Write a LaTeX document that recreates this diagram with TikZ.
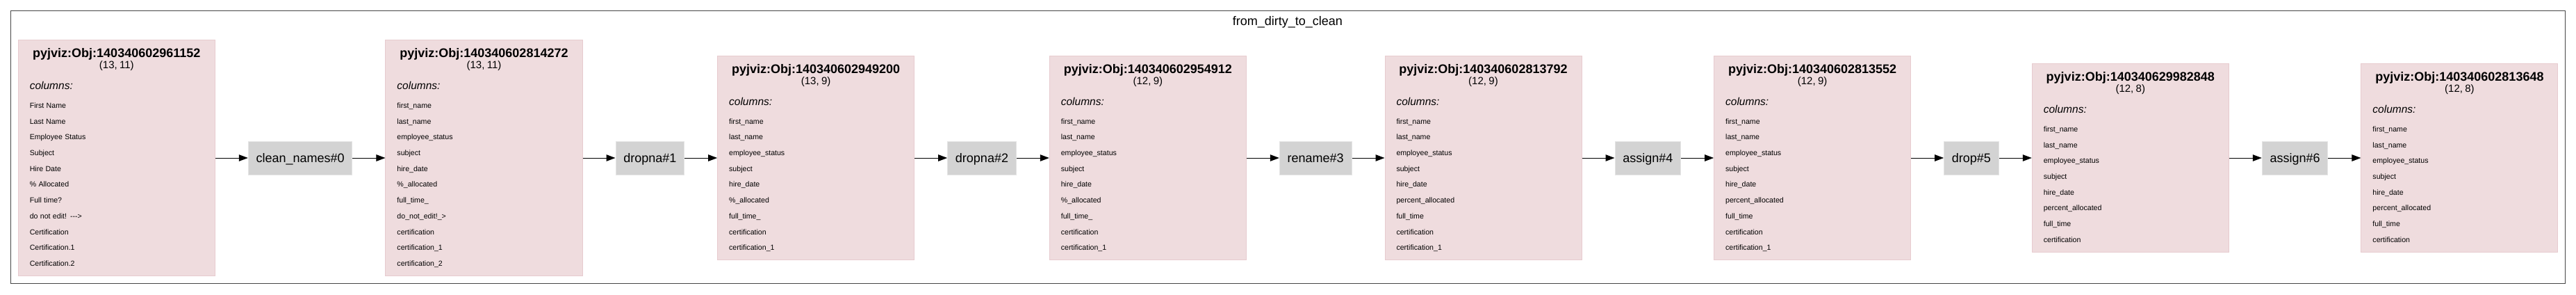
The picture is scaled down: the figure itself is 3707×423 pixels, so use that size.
\documentclass[tikz,border=0pt]{standalone}
\usepackage{fontspec}
\setmainfont{Liberation Sans}
\usetikzlibrary{positioning, arrows.meta}

\definecolor{objfill}{RGB}{239,220,222}
\definecolor{objborder}{RGB}{231,203,207}
\definecolor{opfill}{RGB}{211,211,211}
\definecolor{opborder}{RGB}{228,228,228}
\definecolor{framecol}{RGB}{70,70,70}

% header of a data frame box: id, shape, then the columns label
\newcommand{\objhead}[2]{%
  \fontsize{18pt}{18pt}\bfseries\hbox to\hsize{\hss#1\hss}\par
  \fontsize{15pt}{16.5pt}\mdseries\hbox to\hsize{\hss#2\hss}\par
  \fontsize{15.5pt}{30pt}\itshape\hbox{columns:}\par
  \fontsize{10.6pt}{26.5pt}\upshape}
\newcommand{\objrow}[1]{#1\par\fontsize{10.6pt}{22.7pt}\selectfont}

\tikzstyle{clusterbox} = [
    rectangle,
    draw=framecol,
    line width=1.4pt,
    inner sep=0pt
]
\tikzstyle{objbox} = [
    rectangle,
    draw=objborder,
    fill=objfill,
    line width=1pt,
    text width=250pt,
    inner xsep=16.5pt,
    inner ysep=0pt,
    text height=25pt,
    align=left
]
\tikzstyle{opbox} = [
    rectangle,
    draw=opborder,
    fill=opfill,
    line width=1pt,
    font=\fontsize{18pt}{18pt}\selectfont,
    inner xsep=11.3pt,
    minimum height=48pt,
    text height=13.1pt,
    text depth=0pt
]
\tikzstyle{arrow} = [line width=1pt, -{Triangle[length=13pt, width=9.5pt]}]

\begin{document}
\begin{tikzpicture}[x=1pt, y=-1pt, node distance=47pt]

\useasboundingbox (0,0) rectangle (3707,423);

\node (cluster) [clusterbox, minimum width=3675.6pt, minimum height=391.6pt] at (1853.5,211.5) {};
\node (title) [anchor=base, font=\fontsize{18pt}{18pt}\selectfont] at (1852.8,36) {from\_dirty\_to\_clean};

\node (obj0) [objbox, text depth=314.2pt] at (167.8,227)
{\objhead{pyjviz:Obj:140340602961152}{(13, 11)}
 \objrow{First Name}
 \objrow{Last Name}
 \objrow{Employee Status}
 \objrow{Subject}
 \objrow{Hire Date}
 \objrow{\% Allocated}
 \objrow{Full time?}
 \objrow{do not edit! -{}-{}->}
 \objrow{Certification}
 \objrow{Certification.1}
 \objrow{Certification.2}};

\node (op0) [opbox, right=of obj0] {clean\_names\#0};

\node (obj1) [objbox, text depth=314.2pt, right=of op0]
{\objhead{pyjviz:Obj:140340602814272}{(13, 11)}
 \objrow{first\_name}
 \objrow{last\_name}
 \objrow{employee\_status}
 \objrow{subject}
 \objrow{hire\_date}
 \objrow{\%\_allocated}
 \objrow{full\_time\_}
 \objrow{do\_not\_edit!\_>}
 \objrow{certification}
 \objrow{certification\_1}
 \objrow{certification\_2}};

\node (op1) [opbox, right=of obj1] {dropna\#1};

\node (obj2) [objbox, text depth=268.8pt, right=of op1]
{\objhead{pyjviz:Obj:140340602949200}{(13, 9)}
 \objrow{first\_name}
 \objrow{last\_name}
 \objrow{employee\_status}
 \objrow{subject}
 \objrow{hire\_date}
 \objrow{\%\_allocated}
 \objrow{full\_time\_}
 \objrow{certification}
 \objrow{certification\_1}};

\node (op2) [opbox, right=of obj2] {dropna\#2};

\node (obj3) [objbox, text depth=268.8pt, right=of op2]
{\objhead{pyjviz:Obj:140340602954912}{(12, 9)}
 \objrow{first\_name}
 \objrow{last\_name}
 \objrow{employee\_status}
 \objrow{subject}
 \objrow{hire\_date}
 \objrow{\%\_allocated}
 \objrow{full\_time\_}
 \objrow{certification}
 \objrow{certification\_1}};

\node (op3) [opbox, right=of obj3] {rename\#3};

\node (obj4) [objbox, text depth=268.8pt, right=of op3]
{\objhead{pyjviz:Obj:140340602813792}{(12, 9)}
 \objrow{first\_name}
 \objrow{last\_name}
 \objrow{employee\_status}
 \objrow{subject}
 \objrow{hire\_date}
 \objrow{percent\_allocated}
 \objrow{full\_time}
 \objrow{certification}
 \objrow{certification\_1}};

\node (op4) [opbox, right=of obj4] {assign\#4};

\node (obj5) [objbox, text depth=268.8pt, right=of op4]
{\objhead{pyjviz:Obj:140340602813552}{(12, 9)}
 \objrow{first\_name}
 \objrow{last\_name}
 \objrow{employee\_status}
 \objrow{subject}
 \objrow{hire\_date}
 \objrow{percent\_allocated}
 \objrow{full\_time}
 \objrow{certification}
 \objrow{certification\_1}};

\node (op5) [opbox, right=of obj5] {drop\#5};

\node (obj6) [objbox, text depth=246.1pt, right=of op5]
{\objhead{pyjviz:Obj:140340629982848}{(12, 8)}
 \objrow{first\_name}
 \objrow{last\_name}
 \objrow{employee\_status}
 \objrow{subject}
 \objrow{hire\_date}
 \objrow{percent\_allocated}
 \objrow{full\_time}
 \objrow{certification}};

\node (op6) [opbox, right=of obj6] {assign\#6};

\node (obj7) [objbox, text depth=246.1pt, right=of op6]
{\objhead{pyjviz:Obj:140340602813648}{(12, 8)}
 \objrow{first\_name}
 \objrow{last\_name}
 \objrow{employee\_status}
 \objrow{subject}
 \objrow{hire\_date}
 \objrow{percent\_allocated}
 \objrow{full\_time}
 \objrow{certification}};

% Arrows
\draw [arrow] (obj0) -- (op0);
\draw [arrow] (op0) -- (obj1);
\draw [arrow] (obj1) -- (op1);
\draw [arrow] (op1) -- (obj2);
\draw [arrow] (obj2) -- (op2);
\draw [arrow] (op2) -- (obj3);
\draw [arrow] (obj3) -- (op3);
\draw [arrow] (op3) -- (obj4);
\draw [arrow] (obj4) -- (op4);
\draw [arrow] (op4) -- (obj5);
\draw [arrow] (obj5) -- (op5);
\draw [arrow] (op5) -- (obj6);
\draw [arrow] (obj6) -- (op6);
\draw [arrow] (op6) -- (obj7);

\end{tikzpicture}
\end{document}
